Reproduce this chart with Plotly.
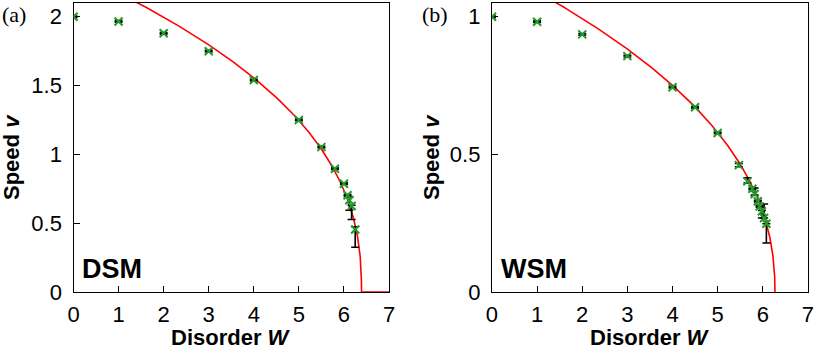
import numpy as np
import plotly.graph_objects as go

# ---- panel (a): DSM ----
dsm_w = [0, 1, 2, 3, 4, 5, 5.5, 5.8, 6.0, 6.08, 6.12, 6.17, 6.25]
dsm_v = [2.0, 1.966, 1.88, 1.75, 1.54, 1.25, 1.053, 0.896, 0.787, 0.703, 0.667, 0.625, 0.454]
dsm_err_up = [0.006, 0.006, 0.006, 0.006, 0.006, 0.006, 0.006, 0.006, 0.006, 0.006, 0.023, 0.005, 0.02]
dsm_err_dn = [0.006, 0.006, 0.006, 0.006, 0.006, 0.006, 0.006, 0.006, 0.006, 0.006, 0.073, 0.098, 0.129]
# power-law fit v = A (Wc - W)^nu
dsm_fit = dict(A=1.089, Wc=6.39, nu=0.41)

# ---- panel (b): WSM ----
wsm_w = [0, 1, 2, 3, 4, 4.5, 5, 5.47, 5.66, 5.77, 5.82, 5.89, 5.93, 5.98, 6.03, 6.08]
wsm_v = [1.0, 0.982, 0.936, 0.857, 0.744, 0.671, 0.578, 0.461, 0.402, 0.375, 0.356, 0.33, 0.311, 0.293, 0.269, 0.248]
wsm_err_up = [0.003, 0.003, 0.003, 0.003, 0.003, 0.003, 0.003, 0.006, 0.013, 0.003, 0.022, 0.003, 0.003, 0.003, 0.051, 0.0]
wsm_err_dn = [0.003, 0.003, 0.003, 0.003, 0.003, 0.003, 0.003, 0.006, 0.006, 0.003, 0.004, 0.003, 0.003, 0.024, 0.0, 0.07]
wsm_fit = dict(A=0.5216, Wc=6.27, nu=0.444)

x_ticks = [0, 1, 2, 3, 4, 5, 6, 7]

GREEN = "#23992b"
SANS = "Liberation Sans, Arial, sans-serif"
SERIF = "Liberation Serif, Times New Roman, serif"


def fit_curve(p, vmax, tail_to=None):
    v = np.linspace(0, vmax, 400)
    w = p["Wc"] - (v / p["A"]) ** (1 / p["nu"])
    w, v = w[::-1], v[::-1]
    if tail_to is not None:
        w = np.append(w, tail_to)
        v = np.append(v, 0)
    return w, v


fig = go.Figure()

panels = [
    ("x", "y", dsm_w, dsm_v, dsm_err_up, dsm_err_dn, dsm_fit, 2.1, 7),
    ("x2", "y2", wsm_w, wsm_v, wsm_err_up, wsm_err_dn, wsm_fit, 1.05, None),
]

for xa, ya, w, v, eu, ed, p, vmax, tail in panels:
    cw, cv = fit_curve(p, vmax * 1.05, tail)
    fig.add_trace(go.Scatter(
        x=cw, y=cv, mode="lines", xaxis=xa, yaxis=ya,
        line=dict(color="red", width=1.6), showlegend=False
    ))
    fig.add_trace(go.Scatter(
        x=w, y=v, mode="markers", xaxis=xa, yaxis=ya,
        marker=dict(symbol="x-thin", size=8, line=dict(color=GREEN, width=2), color=GREEN),
        error_y=dict(type="data", symmetric=False, array=eu, arrayminus=ed,
                     color="black", thickness=1.6, width=4),
        showlegend=False
    ))

axis_common = dict(
    showline=True, linecolor="black", linewidth=1.3, mirror=True,
    ticks="inside", ticklen=6, tickwidth=1.3, tickcolor="black",
    showgrid=False, zeroline=False, layer="below traces",
    ticklabeloverflow="allow",
    tickfont=dict(family=SANS, size=22, color="black"),
)

fig.update_layout(
    width=814, height=349,
    margin=dict(l=0, r=0, t=0, b=0, autoexpand=False),
    plot_bgcolor="white", paper_bgcolor="white",
    xaxis=dict(axis_common, domain=[0.0903, 0.4779], range=[0, 7],
               tickvals=x_ticks, ticklabelstandoff=2, anchor="y"),
    yaxis=dict(axis_common, domain=[0.1633, 0.9914], range=[0, 2.1],
               tickvals=[0, 0.5, 1, 1.5, 2], ticktext=["0", "0.5", "1", "1.5", "2"],
               ticklabelstandoff=6, anchor="x"),
    xaxis2=dict(axis_common, domain=[0.6044, 0.9925], range=[0, 7],
                tickvals=x_ticks, ticklabelstandoff=2, anchor="y2"),
    yaxis2=dict(axis_common, domain=[0.1633, 0.9914], range=[0, 1.05],
                tickvals=[0, 0.5, 1], ticktext=["0", "0.5", "1"],
                ticklabelstandoff=6, anchor="x2"),
)

for xa, ya, name in [("x", "y", "DSM"), ("x2", "y2", "WSM")]:
    fig.add_annotation(
        text=f"<b>{name}</b>", xref=f"{xa} domain", yref=f"{ya} domain",
        x=0.022, y=0.08, xanchor="left", yanchor="middle", showarrow=False,
        font=dict(family=SANS, size=27, color="black")
    )
    fig.add_annotation(
        text="<b>Disorder <i>W</i></b>", xref=f"{xa} domain", yref="paper",
        x=0.5, y=12 / 349, xanchor="center", yanchor="middle", showarrow=False,
        font=dict(family=SANS, size=22, color="black")
    )

# y titles and panel tags placed in paper coordinates
for px_x in [11, 431]:
    fig.add_annotation(
        text="<b>Speed <i>v</i></b>", xref="paper", yref="paper",
        x=px_x / 814, y=1 - 157 / 349, xanchor="center", yanchor="middle",
        textangle=-90, showarrow=False,
        font=dict(family=SANS, size=22, color="black")
    )
for px_x, tag in [(0, "(a)"), (420, "(b)")]:
    fig.add_annotation(
        text=tag, xref="paper", yref="paper",
        x=px_x / 814, y=1 - 14 / 349, xanchor="left", yanchor="middle",
        showarrow=False,
        font=dict(family=SERIF, size=22, color="black")
    )

# drop the browser's default 8px body margin so the figure sits at the page corner
fig.write_html("out.html", config={"displayModeBar": False},
               post_script="document.body.style.margin='0';")
